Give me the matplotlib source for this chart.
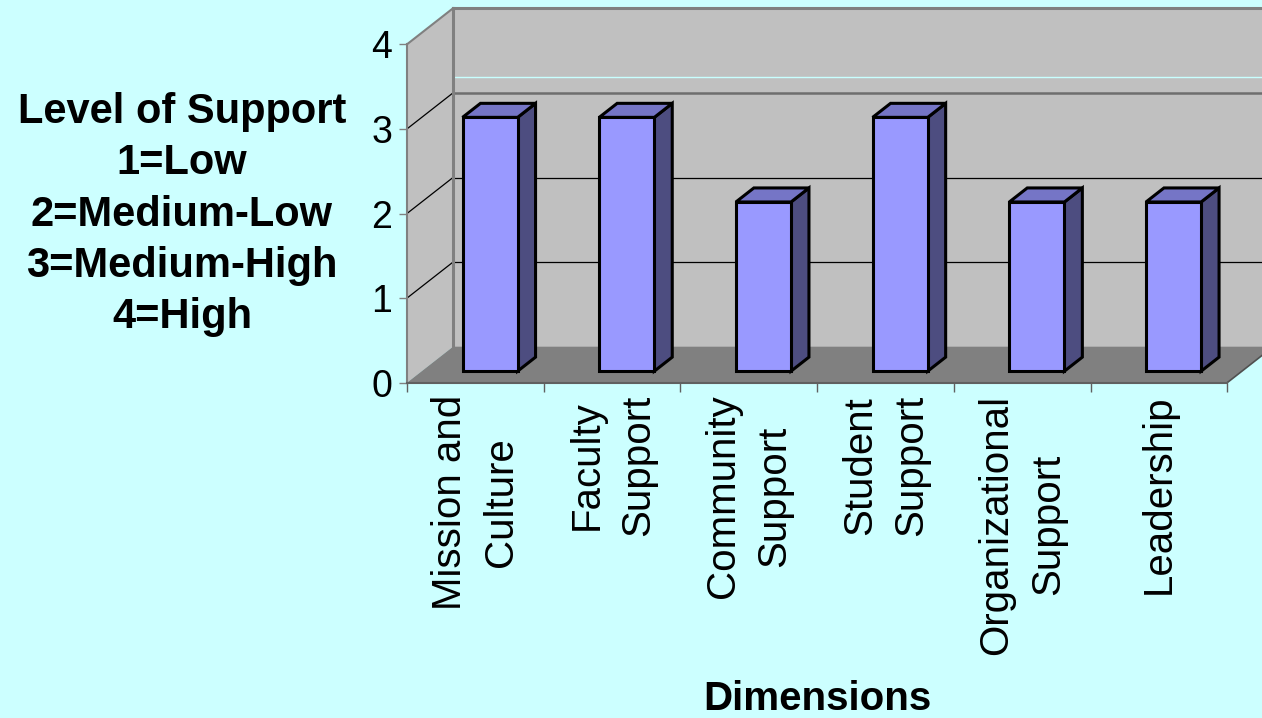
import numpy as np
import matplotlib
matplotlib.use("Agg")
import matplotlib.pyplot as plt
from matplotlib.patches import Polygon
from matplotlib.transforms import blended_transform_factory

# ---- data ----
categories = ["Mission and\nCulture", "Faculty\nSupport", "Community\nSupport",
              "Student\nSupport", "Organizational\nSupport", "Leadership"]
support_level = [3, 3, 2, 3, 2, 2]
value_ticks = [0, 1, 2, 3, 4]
scale_key = ["Level of Support", "1=Low", "2=Medium-Low", "3=Medium-High", "4=High"]
axis_title = "Dimensions"

plt.rcParams["font.family"] = ["Liberation Sans", "DejaVu Sans"]

BG = "#CCFFFF"
WALL = "#C0C0C0"
FLOOR = "#808080"
EDGE = "#808080"
FRONT = "#9999FF"
TOPC = "#7575C6"
SIDE = "#4D4D80"

W, H = 1262, 718
fig = plt.figure(figsize=(W / 100, H / 100), dpi=100, facecolor=BG)
ax = fig.add_axes([0, 0, 1, 1])
ax.set_facecolor(BG)

# pixel layout of the front plane: origin corner and size of one unit
X0, Y0 = 407, 382.7
CAT_PX, VAL_PX = 136.7, 84.6
ax.set_xlim(-X0 / CAT_PX, (W - X0) / CAT_PX)
ax.set_ylim(-(H - Y0) / VAL_PX, Y0 / VAL_PX)

# depth of the pseudo-3D box in data units
DX, DY = 46 / CAT_PX, 36 / VAL_PX
n = len(categories)
vmax = value_ticks[-1]

# side wall, back wall and floor
ax.add_patch(Polygon([(0, 0), (0, vmax), (DX, vmax + DY), (DX, DY)],
                     closed=True, facecolor=WALL, edgecolor="none", zorder=0.5))
ax.add_patch(Polygon([(DX, DY), (DX, vmax + DY), (n + DX, vmax + DY), (n + DX, DY)],
                     closed=True, facecolor=WALL, edgecolor="none", zorder=0.5))
ax.add_patch(Polygon([(0, 0), (n, 0), (n + DX, DY), (DX, DY)],
                     closed=True, facecolor=FLOOR, edgecolor="none", zorder=0.6))

# gridlines on the side and back walls
for v in value_ticks[1:-1]:
    ax.plot([0, DX], [v, v + DY], color="black", lw=0.9, zorder=0.7)
    top_line = v == value_ticks[-2]
    ax.plot([DX, n + DX], [v + DY, v + DY],
            color="#6E6E6E" if top_line else "black",
            lw=1.8 if top_line else 0.9, zorder=0.7)

# faint highlight across the back wall
ax.plot([DX, n + DX], [vmax - 0.81 + DY, vmax - 0.81 + DY], color="#C8FFFF", lw=1, zorder=0.7)

# box outline
ax.plot([DX, DX], [DY, vmax + DY], color=EDGE, lw=2.2, zorder=0.8)
ax.plot([DX, n + DX], [vmax + DY, vmax + DY], color=EDGE, lw=2.2, zorder=0.8)
ax.plot([0, DX], [vmax, vmax + DY], color=EDGE, lw=1.5, zorder=0.8)
ax.plot([n, n + DX], [0, DY], color="#505050", lw=1.2, zorder=0.8)

# 3D bars
half_w = 0.2015
d0, d1 = 0.32, 0.71
ddx, ddy = (d1 - d0) * DX, (d1 - d0) * DY
for i, v in enumerate(support_level):
    x0 = i + 0.5 - half_w + d0 * DX
    x1 = i + 0.5 + half_w + d0 * DX
    yb = d0 * DY
    yt = v + d0 * DY
    kw = dict(closed=True, edgecolor="black", lw=2.2, joinstyle="miter", zorder=2)
    ax.add_patch(Polygon([(x1, yb), (x1 + ddx, yb + ddy), (x1 + ddx, yt + ddy), (x1, yt)],
                         facecolor=SIDE, **kw))
    ax.add_patch(Polygon([(x0, yt), (x1, yt), (x1 + ddx, yt + ddy), (x0 + ddx, yt + ddy)],
                         facecolor=TOPC, **kw))
    ax.add_patch(Polygon([(x0, yb), (x1, yb), (x1, yt), (x0, yt)],
                         facecolor=FRONT, **kw))

# axes
for s in ("top", "right"):
    ax.spines[s].set_visible(False)
ax.spines["left"].set_position(("data", 0))
ax.spines["left"].set_bounds(0, vmax)
ax.spines["left"].set_color(EDGE)
ax.spines["left"].set_linewidth(1.5)
ax.spines["bottom"].set_position(("data", 0))
ax.spines["bottom"].set_bounds(0, n)
ax.spines["bottom"].set_color("#606060")
ax.spines["bottom"].set_linewidth(1.5)
for sp in ax.spines.values():
    sp.set_zorder(3)

ax.set_yticks(value_ticks)
ax.set_yticklabels([str(v) for v in value_ticks])
ax.tick_params(axis="y", length=5.8, width=1, color=EDGE, pad=5, labelsize=27)

ax.set_xticks(np.arange(n + 1))
ax.set_xticklabels([])
ax.tick_params(axis="x", which="major", length=6.5, width=1, color="#606060")
ax.set_xticks(np.arange(n) + 0.5, minor=True)
ax.set_xticklabels(categories, minor=True, rotation=90, fontsize=29,
                   linespacing=1.45, multialignment="center")
ax.tick_params(axis="x", which="minor", length=0, pad=8.5)

# value key at the left
for i, line in enumerate(scale_key):
    fig.text(182 / W, 1 - (123 + i * 51.3) / H, line, ha="center", va="baseline",
             fontsize=30, fontweight="bold")

# category axis title
tr = blended_transform_factory(ax.transData, fig.transFigure)
ax.text(n / 2, 1 - 710 / H, axis_title, transform=tr, ha="center", va="baseline",
        fontsize=29, fontweight="bold")

fig.savefig("out.png", dpi=100, facecolor=BG)
